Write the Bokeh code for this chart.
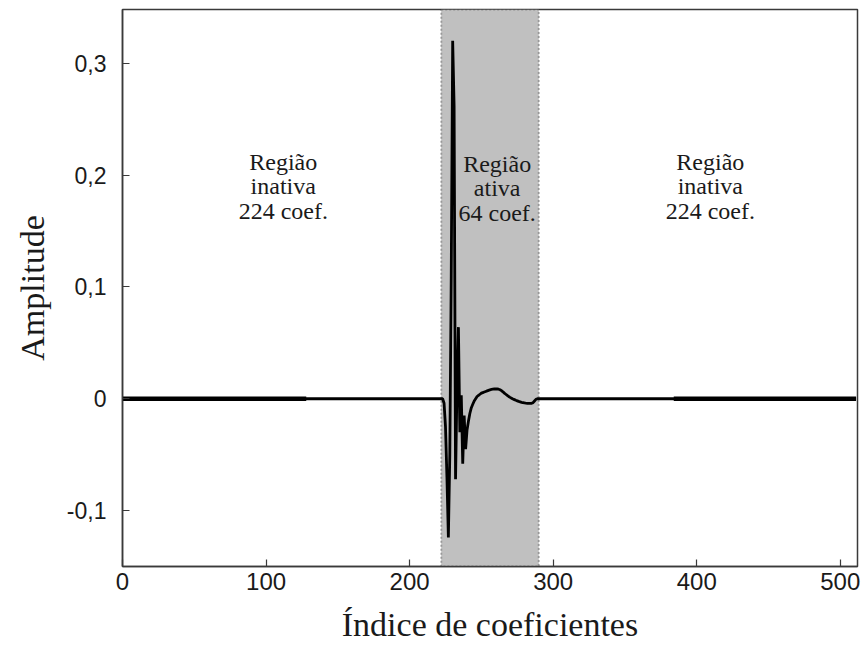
from bokeh.plotting import figure
from bokeh.models import Range1d, FixedTicker, CustomJSTickFormatter, BoxAnnotation, ColumnDataSource
from bokeh.core.properties import value
from bokeh.embed import file_html
from bokeh.resources import INLINE

# ---------------- data ----------------
coef_index = [0, 222, 223, 224, 225, 226, 227, 228, 229, 230, 231, 232, 233, 234, 235,
              236, 237, 238, 239, 240, 241, 242, 243, 244, 245, 246, 247, 248, 249, 250,
              251, 252, 253, 254, 255, 256, 257, 258, 259, 260, 261, 262, 263, 264, 265,
              266, 267, 268, 269, 270, 271, 272, 273, 274, 275, 276, 277, 278, 279, 280,
              281, 282, 283, 284, 285, 286, 287, 288, 289, 290, 511]
amplitude = [0.0, 0.0, 0.0, -0.004, -0.025, -0.070, -0.124, -0.050, 0.110, 0.320, 0.262,
             -0.072, 0.010, 0.064, -0.030, 0.003, -0.058, -0.015, -0.045, -0.028, -0.020,
             -0.013, -0.008, -0.005, -0.002, 0.000, 0.002, 0.003, 0.004, 0.005, 0.0055,
             0.006, 0.0065, 0.007, 0.0075, 0.008, 0.0083, 0.0085, 0.0087, 0.0087, 0.0087,
             0.0085, 0.0080, 0.0072, 0.0062, 0.0050, 0.0040, 0.0030, 0.0020, 0.0012, 0.0005,
             -0.0002, -0.0008, -0.0014, -0.0019, -0.0024, -0.0028, -0.0032, -0.0035, -0.0038,
             -0.0040, -0.0041, -0.0042, -0.0042, -0.0041, -0.0035, -0.0020, -0.0005, 0.0,
             0.0, 0.0]

thick_start = [0, 384]
thick_end = [128, 511]
thick_level = [0.0, 0.0]

active_start = 222
active_end = 290

x_ticks = [0, 100, 200, 300, 400, 500]
y_ticks = [-0.1, 0.0, 0.1, 0.2, 0.3]
y_tick_labels = ["-0,1", "0", "0,1", "0,2", "0,3"]

region_labels = ["Região\ninativa\n224 coef.",
                 "Região\nativa\n64 coef.",
                 "Região\ninativa\n224 coef."]
region_label_x = [112, 261, 409.5]
region_label_y = [0.190, 0.188, 0.190]

x_title = "Índice de coeficientes"
y_title = "Amplitude"

# ---------------- figure ----------------
p = figure(width=866, height=648, output_backend="svg", toolbar_location=None,
           x_range=Range1d(0, 512), y_range=Range1d(-0.15, 0.348))
p.min_border_left = 122
p.min_border_right = 9
p.min_border_top = 9
p.min_border_bottom = 82
p.background_fill_color = "white"
p.border_fill_color = "white"
p.outline_line_color = "#3a3a3a"
p.outline_line_width = 1.5
p.grid.visible = False

box = BoxAnnotation(left=active_start, right=active_end,
                    fill_color="#c0c0c0", fill_alpha=1.0,
                    line_color="#222222", line_width=2, line_dash="2 2",
                    level="underlay")
p.add_layout(box)

src = ColumnDataSource(dict(x=coef_index, y=amplitude))
p.line("x", "y", source=src, line_color="black", line_width=2.8)
p.segment(x0=thick_start, y0=thick_level, x1=thick_end, y1=thick_level,
          line_color="black", line_width=4.4)

p.text(x=region_label_x, y=region_label_y, text=region_labels,
       text_font=value("Liberation Serif"), text_font_size="24px",
       text_align="center", text_baseline="middle", text_line_height=0.95,
       text_color="#1a1a1a")

# axes
for ax in (p.xaxis[0], p.yaxis[0]):
    ax.major_tick_in = 7
    ax.major_tick_out = 0
    ax.minor_tick_in = 0
    ax.minor_tick_out = 0
    ax.axis_line_color = "#3a3a3a"
    ax.axis_line_width = 1.5
    ax.major_tick_line_color = "#3a3a3a"
    ax.major_tick_line_width = 1.2
    ax.major_label_text_font = "Liberation Sans"
    ax.major_label_text_color = "#1a1a1a"
    ax.axis_label_text_font = "Liberation Serif"
    ax.axis_label_text_font_style = "normal"
    ax.axis_label_text_color = "#1a1a1a"
    ax.axis_label_text_font_size = "34px"

p.xaxis.ticker = FixedTicker(ticks=x_ticks)
p.xaxis.major_label_text_font_size = "24px"
p.xaxis.major_label_standoff = 6
p.xaxis.axis_label = x_title
p.xaxis.axis_label_standoff = 13

p.yaxis.ticker = FixedTicker(ticks=y_ticks)
p.yaxis.formatter = CustomJSTickFormatter(args=dict(tvals=y_ticks, tlabels=y_tick_labels), code="""
    let best = 0, bd = 1e9;
    for (let i = 0; i < tvals.length; i++) {
        const d = Math.abs(tvals[i] - tick);
        if (d < bd) { bd = d; best = i; }
    }
    return tlabels[best];
""")
p.yaxis.major_label_text_font_size = "23px"
p.yaxis.major_label_standoff = 16
p.yaxis.axis_label = y_title
p.yaxis.axis_label_standoff = 13

open("out.html", "w").write(file_html(p, INLINE))
